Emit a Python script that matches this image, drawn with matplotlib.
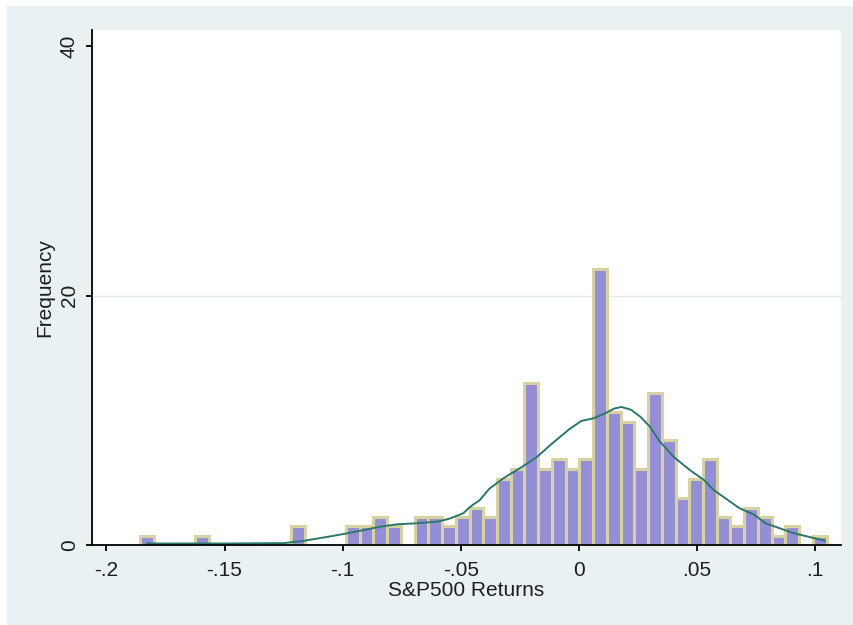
import numpy as np
import matplotlib
matplotlib.use("Agg")
import matplotlib.pyplot as plt
from matplotlib.patches import Rectangle

# Histogram of S&P500 returns: 50 equal bins between the sample min and max
bin_lo, bin_hi = -0.1858, 0.1048
freq = [0.75, 0, 0, 0, 0.75, 0, 0, 0, 0, 0,
        0, 1.5, 0, 0, 0, 1.5, 1.5, 2.25, 1.5, 0,
        2.25, 2.25, 1.5, 2.25, 3.0, 2.25, 5.3, 6.1, 13.0, 6.1,
        6.9, 6.1, 6.9, 22.1, 10.7, 9.9, 6.1, 12.2, 8.4, 3.8,
        5.3, 6.9, 2.25, 1.5, 3.0, 2.25, 0.75, 1.5, 0, 0.75]

# Kernel density overlay, on the frequency scale
kde_x = [-0.183, -0.150, -0.125, -0.117, -0.105, -0.098, -0.091, -0.084,
         -0.077, -0.069, -0.060, -0.055, -0.049, -0.046, -0.042, -0.038,
         -0.032, -0.024, -0.018, -0.011, -0.004, 0.001, 0.006, 0.011,
         0.015, 0.018, 0.022, 0.026, 0.030, 0.034, 0.040, 0.047, 0.053,
         0.057, 0.063, 0.068, 0.074, 0.079, 0.085, 0.091, 0.098, 0.104]
kde_y = [0.12, 0.12, 0.15, 0.32, 0.70, 0.94, 1.20, 1.47,
         1.66, 1.74, 1.87, 2.10, 2.54, 3.07, 3.60, 4.50,
         5.35, 6.28, 7.03, 8.20, 9.30, 9.95, 10.15, 10.55,
         10.95, 11.07, 10.85, 10.28, 9.50, 8.35, 7.08, 6.00, 5.20,
         4.41, 3.61, 2.94, 2.45, 1.74, 1.34, 0.94, 0.62, 0.35]

xticks = [-0.2, -0.15, -0.1, -0.05, 0.0, 0.05, 0.1]
xtick_labels = ["-.2", "-.15", "-.1", "-.05", "0", ".05", ".1"]
yticks = [0, 20, 40]
ytick_labels = ["0", "20", "40"]

plt.rcParams["font.family"] = ["Liberation Sans", "DejaVu Sans"]

W, H = 854, 625
fig = plt.figure(figsize=(W / 100, H / 100), dpi=100, facecolor="white")
fig.patches.append(Rectangle((7 / W, 0), 1, 1 - 6 / H, transform=fig.transFigure,
                             facecolor="#EAF1F3", edgecolor="none", zorder=-1))

ax = fig.add_axes([92 / W, 80 / H, 749 / W, 515 / H])
ax.set_zorder(1)
ax.set_facecolor("white")

edges = np.linspace(bin_lo, bin_hi, len(freq) + 1)
heights = np.array(freq)
mask = heights > 0
ax.bar(edges[:-1][mask], heights[mask], width=np.diff(edges)[mask], align="edge",
       color="#948FD4", edgecolor="#D8D2A2", linewidth=2.2, zorder=2)

ax.plot(kde_x, kde_y, color="#2C776B", linewidth=1.4, zorder=3)

ax.axhline(20, color="#E4ECEE", linewidth=1.0, zorder=1)

ax.set_xlim(-0.2061, 0.1109)
ax.set_ylim(0, 41.3)

for side in ("top", "right"):
    ax.spines[side].set_visible(False)
for side in ("left", "bottom"):
    ax.spines[side].set_color("black")
    ax.spines[side].set_linewidth(1.3)
    ax.spines[side].set_zorder(4)

ax.set_xticks(xticks)
ax.set_xticklabels(xtick_labels)
ax.set_yticks(yticks)
ax.set_yticklabels(ytick_labels, rotation=90, va="center")

ax.tick_params(axis="both", direction="out", length=4.5, width=1.3,
               color="black", labelsize=15, labelcolor="#1E1E1E")
ax.tick_params(axis="x", pad=7)
ax.tick_params(axis="y", pad=5)

ax.set_xlabel("S&P500 Returns", fontsize=15, color="#1E1E1E", labelpad=1)
ax.set_ylabel("Frequency", fontsize=15, color="#1E1E1E", labelpad=4)

fig.savefig("out.png", dpi=100, facecolor=fig.get_facecolor())
